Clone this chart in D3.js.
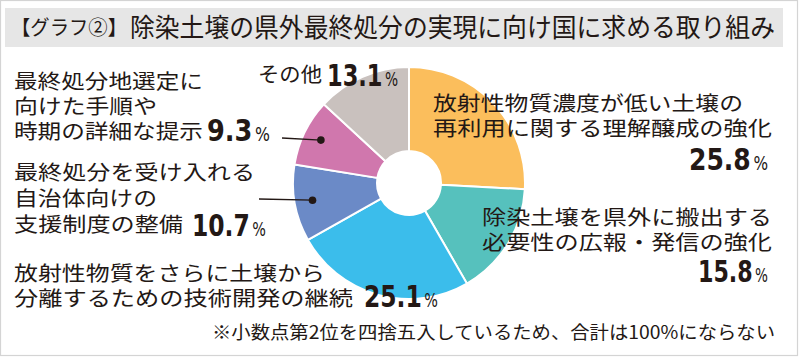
<!DOCTYPE html>
<html><head><meta charset="utf-8">
<script src="https://cdn.jsdelivr.net/npm/d3@7/dist/d3.min.js"></script>
<style>
html,body{margin:0;padding:0;background:#fff;}
svg{display:block;}
text{font-family:"Noto Sans CJK JP","Noto Sans",sans-serif;fill:#231815;}
.num{font-family:"Liberation Sans Narrow","DejaVu Sans Condensed","Liberation Sans",sans-serif;}
</style></head>
<body>
<script>
// ---- data ----
const categories = [
  "放射性物質濃度が低い土壌の再利用に関する理解醸成の強化",
  "除染土壌を県外に搬出する必要性の広報・発信の強化",
  "放射性物質をさらに土壌から分離するための技術開発の継続",
  "最終処分を受け入れる自治体向けの支援制度の整備",
  "最終処分地選定に向けた手順や時期の詳細な提示",
  "その他"
];
const values = [25.8, 15.8, 25.1, 10.7, 9.3, 13.1];
const colors = ["#FBBE5C", "#56C1BD", "#3BBDEB", "#6B8AC7", "#D077AD", "#C9C1BE"];
const labelLines = [
  ["放射性物質濃度が低い土壌の", "再利用に関する理解醸成の強化"],
  ["除染土壌を県外に搬出する", "必要性の広報・発信の強化"],
  ["放射性物質をさらに土壌から", "分離するための技術開発の継続"],
  ["最終処分を受け入れる", "自治体向けの", "支援制度の整備"],
  ["最終処分地選定に", "向けた手順や", "時期の詳細な提示"],
  ["その他"]
];
const titleTag = "【グラフ②】";
const titleText = "除染土壌の県外最終処分の実現に向け国に求める取り組み";
const footnote = "※小数点第2位を四捨五入しているため、合計は100%にならない";

// ---- layout ----
const W = 800, H = 357;
const svg = d3.select("body").append("svg").attr("width", W).attr("height", H);

svg.append("rect").attr("x", 0.5).attr("y", 0.5).attr("width", W - 3).attr("height", H - 2)
  .attr("fill", "#fff").attr("stroke", "#d4d4d4").attr("stroke-width", 1.2);

// title bar
svg.append("rect").attr("x", 5).attr("y", 8).attr("width", 778).attr("height", 39).attr("fill", "#E6E6E6");
svg.append("text").attr("x", 11).attr("y", 35).attr("font-size", 20)
  .attr("textLength", 116).attr("lengthAdjust", "spacingAndGlyphs").text(titleTag);
svg.append("text").attr("x", 130).attr("y", 37).attr("font-size", 26)
  .attr("textLength", 645).attr("lengthAdjust", "spacingAndGlyphs").text(titleText);

// pie
const cx = 409, cy = 183, R = 116, r0 = 32;
const pie = d3.pie().sort(null).value(d => d)(values);
const arc = d3.arc().innerRadius(r0).outerRadius(R);
const g = svg.append("g").attr("transform", `translate(${cx},${cy})`);
g.selectAll("path").data(pie).join("path")
  .attr("d", arc).attr("fill", (d, i) => colors[i])
  .attr("stroke", "#fff").attr("stroke-width", 2);

// leader lines with dots for slices 3 and 4
const dotArc = d3.arc().innerRadius(98).outerRadius(98);
const leaderStart = {4: [282 - cx, 138 - cy], 3: [259 - cx, 199 - cy]};
[4, 3].forEach(i => {
  const c = dotArc.centroid(pie[i]);
  g.append("line").attr("x1", leaderStart[i][0]).attr("y1", leaderStart[i][1])
    .attr("x2", c[0]).attr("y2", c[1]).attr("stroke", "#231815").attr("stroke-width", 1.3);
  g.append("circle").attr("cx", c[0]).attr("cy", c[1]).attr("r", 3.8).attr("fill", "#231815");
});

// labels
function lines(arr, x, y0, dy, lens) {
  arr.forEach((t, k) => {
    const el = svg.append("text").attr("x", x).attr("y", y0 + k * dy).attr("font-size", 20.5).text(t);
    if (lens && lens[k]) el.attr("textLength", lens[k]).attr("lengthAdjust", "spacingAndGlyphs");
  });
}
function pct(v, xEnd, yBase, totLen) {
  const t = svg.append("text").attr("class", "num").attr("x", xEnd).attr("y", yBase)
    .attr("text-anchor", "end").attr("textLength", totLen).attr("lengthAdjust", "spacingAndGlyphs");
  t.append("tspan").attr("font-size", 31).attr("font-weight", "bold").text(v.toFixed(1));
  t.append("tspan").attr("font-size", 19).attr("dx", 3).text("%");
}

// slice 0
lines(labelLines[0], 433, 111, 25, [310, 339]);
pct(values[0], 768, 170, 79);
// slice 1
lines(labelLines[1], 482, 225, 25, [290, 290]);
pct(values[1], 768, 282, 70);
// slice 2
lines(labelLines[2], 14, 281, 25, [311, 339]);
pct(values[2], 438, 307, 74);
// slice 3
lines(labelLines[3], 14, 180, 26, [241, 143, 169]);
pct(values[3], 266, 236, 74);
// slice 4
lines(labelLines[4], 14, 89, 25, [189, 143, 189]);
pct(values[4], 270, 141, 63);
// slice 5
lines(labelLines[5], 258, 82, 0, [64]);
pct(values[5], 398, 86, 71);

// footnote
svg.append("text").attr("x", 212).attr("y", 339).attr("font-size", 18).attr("fill", "#333")
  .attr("textLength", 563).attr("lengthAdjust", "spacingAndGlyphs").text(footnote);
</script>
</body></html>
